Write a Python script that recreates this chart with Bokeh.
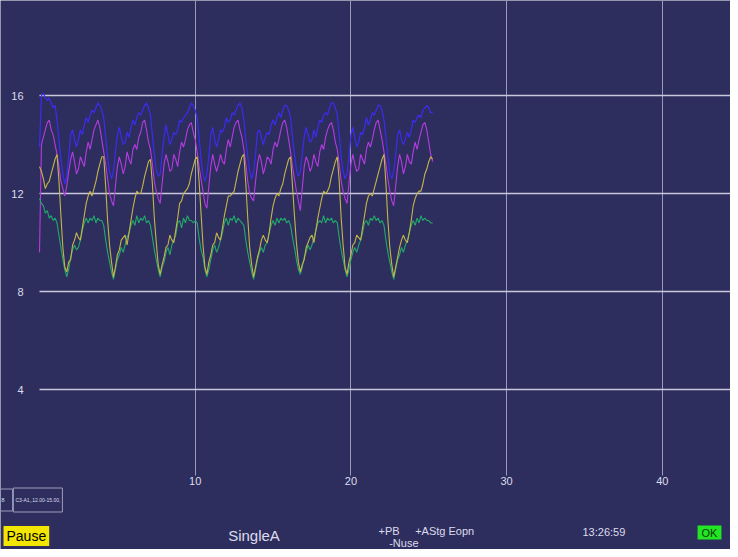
import numpy as np
from bokeh.plotting import figure
from bokeh.models import FixedTicker, Label, Range1d
from bokeh.embed import file_html
from bokeh.resources import INLINE

# ---------------- data ----------------
sample_step = 0.125  # seconds between samples

yellow = [13.1, 12.9, 12.6, 12.2, 12.4, 12.5, 12.8, 13.1, 13.4,
          13.6, 12.5, 11.1, 9.8, 9.0, 8.8, 9.2, 9.3, 9.9, 10.1, 10.4, 10.2, 10.1, 10.6, 11.1, 11.6, 11.9, 12.1, 11.9, 12.2, 12.5, 12.9, 13.2, 13.5,
          13.5, 12.3, 10.9, 9.9, 9.2, 8.6, 9.0, 9.5, 9.7, 10.1, 10.2, 10.3, 9.9, 10.4, 10.9, 11.4, 11.8, 12.1, 12.0, 12.0, 12.3, 12.7, 13.0, 13.3,
          13.4, 12.4, 11.0, 10.0, 9.1, 8.7, 9.1, 9.4, 9.8, 9.9, 10.3, 10.1, 10.0, 10.5, 11.0, 11.6, 11.7, 12.0, 12.1, 12.2, 12.4, 12.8, 13.1, 13.4,
          13.5, 12.5, 11.2, 9.9, 9.0, 8.7, 9.2, 9.5, 9.9, 10.0, 10.4, 10.2, 10.1, 10.6, 11.1, 11.5, 11.9, 11.9, 12.0, 12.1, 12.5, 12.9, 13.2, 13.5,
          13.6, 12.4, 11.0, 9.8, 9.1, 8.6, 9.0, 9.4, 9.7, 10.1, 10.3, 10.1, 10.0, 10.4, 11.0, 11.5, 11.8, 12.0, 11.9, 12.2, 12.4, 12.8, 13.1, 13.4,
          13.5, 12.3, 11.1, 10.0, 9.2, 8.8, 9.1, 9.3, 9.8, 10.0, 10.2, 10.3, 10.0, 10.5, 11.0, 11.4, 11.8, 12.1, 12.0, 12.1, 12.3, 12.7, 13.0, 13.3,
          13.5, 12.5, 11.0, 9.9, 9.0, 8.7, 9.2, 9.5, 9.9, 10.0, 10.3, 10.2, 10.1, 10.6, 11.1, 11.6, 11.9, 12.0, 11.9, 12.2, 12.5, 12.8, 13.1, 13.4,
          13.6, 12.4, 10.9, 9.8, 9.1, 8.6, 9.0, 9.4, 9.8, 10.1, 10.3, 10.1, 10.0, 10.4, 10.9, 11.5, 11.8, 12.0, 12.1, 12.1, 12.4, 12.8, 13.0, 13.3,
          13.5, 13.4]

green = [11.8, 11.6, 11.5, 11.2, 11.3, 11.0, 11.1, 10.9, 11.0,
         10.8, 10.3, 9.8, 9.3, 8.9, 8.6, 8.9, 9.4, 9.7, 9.9, 9.7, 9.8, 10.1, 10.5, 10.8, 11.0, 10.8, 11.0, 10.9, 11.1, 10.8, 11.0, 10.9, 10.9,
         10.7, 10.1, 9.6, 9.2, 8.8, 8.5, 8.9, 9.3, 9.5, 9.8, 9.6, 9.9, 10.2, 10.4, 10.7, 10.9, 10.7, 11.1, 10.8, 11.0, 10.9, 11.1, 10.8, 10.9,
         10.7, 10.2, 9.7, 9.3, 8.9, 8.6, 9.0, 9.2, 9.6, 9.8, 9.5, 9.9, 10.1, 10.3, 10.8, 10.9, 10.6, 11.0, 10.8, 11.1, 10.9, 10.9, 10.8, 10.9,
         10.8, 10.2, 9.7, 9.4, 8.9, 8.6, 8.9, 9.3, 9.7, 9.9, 9.6, 9.8, 10.1, 10.4, 10.8, 11.0, 10.7, 11.0, 10.9, 11.1, 10.8, 11.0, 10.9, 10.8,
         10.7, 10.1, 9.6, 9.2, 8.8, 8.5, 8.9, 9.3, 9.6, 9.8, 9.6, 9.9, 10.0, 10.4, 10.7, 10.9, 10.7, 11.0, 10.8, 11.0, 10.9, 11.0, 10.8, 10.9,
         10.7, 10.2, 9.8, 9.3, 8.9, 8.7, 9.0, 9.4, 9.6, 9.9, 9.7, 9.9, 10.2, 10.5, 10.8, 10.9, 10.8, 11.1, 10.8, 11.0, 10.9, 11.0, 10.8, 10.9,
         10.8, 10.2, 9.7, 9.3, 8.9, 8.6, 8.9, 9.3, 9.6, 9.8, 9.6, 9.9, 10.1, 10.4, 10.8, 10.9, 10.7, 11.0, 10.9, 11.1, 10.9, 11.0, 10.8, 10.9,
         10.7, 10.1, 9.6, 9.2, 8.8, 8.5, 8.9, 9.3, 9.5, 9.8, 9.6, 9.9, 10.1, 10.4, 10.7, 10.9, 10.7, 11.0, 10.8, 11.1, 10.9, 11.0, 10.9, 10.9,
         10.8, 10.8]

blue = [13.9, 16.0, 16.1, 15.9, 15.8, 15.9, 15.7, 15.5, 15.6,
        15.0, 14.2, 13.4, 12.8, 12.4, 12.7, 13.5, 14.4, 14.6, 14.2, 13.9, 14.2, 14.6, 14.4, 14.8, 15.1, 14.9, 15.2, 15.4, 15.3, 15.5, 15.7, 15.6, 15.4,
        15.1, 14.3, 13.5, 12.9, 12.6, 12.9, 13.7, 14.4, 14.7, 14.3, 14.0, 14.1, 14.5, 14.3, 14.7, 15.0, 14.8, 15.1, 15.3, 15.2, 15.4, 15.6, 15.7, 15.5,
        15.2, 14.4, 13.6, 13.0, 12.7, 12.8, 13.6, 14.3, 14.8, 14.4, 14.0, 14.2, 14.5, 14.4, 14.6, 15.0, 14.9, 15.1, 15.2, 15.3, 15.5, 15.7, 15.6, 15.4,
        15.1, 14.3, 13.4, 12.8, 12.5, 12.8, 13.5, 14.4, 14.7, 14.2, 13.9, 14.2, 14.6, 14.5, 14.7, 15.1, 14.9, 15.0, 15.3, 15.2, 15.4, 15.6, 15.7, 15.5,
        15.0, 14.2, 13.5, 12.9, 12.6, 12.9, 13.6, 14.5, 14.6, 14.3, 14.0, 14.3, 14.5, 14.4, 14.8, 15.0, 14.8, 15.1, 15.3, 15.1, 15.4, 15.6, 15.6, 15.4,
        15.1, 14.3, 13.6, 13.0, 12.7, 12.9, 13.6, 14.3, 14.7, 14.4, 14.1, 14.2, 14.6, 14.3, 14.7, 15.0, 14.9, 15.2, 15.3, 15.2, 15.5, 15.7, 15.7, 15.5,
        15.2, 14.4, 13.5, 12.9, 12.6, 12.8, 13.5, 14.4, 14.7, 14.3, 13.9, 14.1, 14.5, 14.4, 14.7, 15.1, 14.8, 15.0, 15.3, 15.2, 15.4, 15.6, 15.6, 15.4,
        15.0, 14.3, 13.5, 12.8, 12.6, 12.9, 13.6, 14.4, 14.6, 14.2, 14.0, 14.2, 14.5, 14.3, 14.6, 15.0, 14.9, 15.1, 15.2, 15.1, 15.4, 15.5, 15.6, 15.5,
        15.3, 15.3]

magenta = [9.6, 14.0, 14.3, 14.6, 14.9, 15.0, 14.6, 14.4, 14.0,
           13.6, 13.1, 12.5, 12.2, 11.9, 12.3, 12.9, 13.4, 13.7, 13.3, 12.8, 13.0, 13.5, 13.3, 13.1, 13.7, 14.1, 13.8, 14.2, 14.6, 14.8, 15.0, 14.7, 14.2,
           13.7, 13.2, 12.6, 12.0, 11.7, 11.5, 12.3, 13.1, 13.5, 13.2, 12.8, 13.1, 13.7, 13.4, 13.2, 13.8, 14.0, 13.8, 14.3, 14.5, 14.9, 15.0, 14.6, 14.1,
           13.8, 13.2, 12.5, 12.1, 11.8, 11.6, 12.4, 13.2, 13.6, 13.3, 12.9, 13.0, 13.6, 13.4, 13.1, 13.7, 14.1, 13.9, 14.2, 14.6, 14.8, 14.9, 14.5, 14.2,
           13.7, 13.1, 12.6, 12.1, 11.6, 11.4, 12.3, 13.1, 13.6, 13.2, 12.9, 13.2, 13.6, 13.3, 13.2, 13.8, 14.2, 13.9, 14.3, 14.7, 14.9, 15.0, 14.6, 14.3,
           13.8, 13.2, 12.5, 12.0, 11.8, 11.7, 12.5, 13.2, 13.6, 13.3, 12.8, 13.1, 13.5, 13.4, 13.2, 13.8, 14.1, 13.9, 14.2, 14.6, 14.9, 15.0, 14.7, 14.2,
           13.7, 13.1, 12.6, 12.1, 11.7, 11.3, 12.2, 13.1, 13.5, 13.3, 12.9, 13.1, 13.6, 13.3, 13.1, 13.7, 14.0, 13.8, 14.3, 14.6, 14.8, 14.9, 14.6, 14.1,
           13.8, 13.2, 12.5, 12.1, 11.8, 11.6, 12.4, 13.2, 13.6, 13.2, 12.9, 13.0, 13.6, 13.4, 13.2, 13.8, 14.1, 13.9, 14.2, 14.6, 14.9, 15.0, 14.6, 14.2,
           13.7, 13.2, 12.6, 12.1, 11.7, 11.5, 12.3, 13.1, 13.6, 13.3, 12.8, 13.1, 13.6, 13.3, 13.2, 13.7, 14.1, 13.8, 14.2, 14.5, 14.8, 14.9, 14.6, 14.1,
           13.6, 13.3]

x_ticks = [10, 20, 30, 40]
y_ticks = [4, 8, 12, 16]

# ---------------- style ----------------
BG = "#2e2e5e"
TXT = "#dcdcec"
FONT = "Liberation Sans"

t = np.arange(len(yellow)) * sample_step

p = figure(width=730, height=549, output_backend="svg", toolbar_location=None,
           x_range=Range1d(-2.505, 44.38), y_range=Range1d(-2.53, 19.88),
           min_border_left=0, min_border_right=0, min_border_top=0, min_border_bottom=0)
p.background_fill_color = BG
p.border_fill_color = BG
p.outline_line_color = None

p.xaxis.ticker = FixedTicker(ticks=x_ticks)
p.yaxis.ticker = FixedTicker(ticks=y_ticks)
p.xaxis.fixed_location = 0.49
p.yaxis.fixed_location = 0
for ax in (p.xaxis, p.yaxis):
    ax.axis_line_color = None
    ax.major_tick_line_color = None
    ax.minor_tick_line_color = None
    ax.major_tick_out = 0
    ax.major_tick_in = 0
    ax.major_label_text_color = TXT
    ax.major_label_text_font = FONT
    ax.major_label_text_font_size = "11px"
p.yaxis.major_label_standoff = 16
p.xaxis.major_label_standoff = 1

p.xgrid.grid_line_color = "#9a9abb"
p.xgrid.grid_line_width = 1
p.xgrid.cross_bounds = (0.49, 19.88)
p.ygrid.grid_line_color = "#c8c8da"
p.ygrid.grid_line_width = 1.5
p.ygrid.cross_bounds = (0, 44.38)

p.line(t, blue, line_color="#3b2cf0", line_width=1.2)
p.line(t, magenta, line_color="#b43ce0", line_width=1.1)
p.line(t, green, line_color="#22a86a", line_width=1.1)
p.line(t, yellow, line_color="#c4b648", line_width=1.1)

# ---------------- status bar ----------------
def lab(text, x, y, size, align="left", color=TXT, bg=None, pad=0, border=None):
    kw = dict(x=x, y=y, x_units="screen", y_units="screen", text=text,
              text_font=FONT, text_font_size=size, text_color=color,
              text_align=align, text_baseline="middle")
    if bg is not None:
        kw["background_fill_color"] = bg
    if border is not None:
        kw["border_line_color"] = border
        kw["border_line_width"] = 1
    if pad:
        kw["padding"] = pad
    p.add_layout(Label(**kw))

lab("8", 2.4, 49.5, "6px", align="center", pad=(8, 9), border="#9a9abb")
lab("C3-A1,,12.00-15.00,", 37.4, 49.5, "5px", align="center", pad=(2, 9), border="#9a9abb")
lab("Pause", 3, 13.5, "14px", color="#000000", bg="#f2e600", pad=(3, 2))
lab("SingleA", 253.5, 14, "15px", align="center")
lab("+PB", 378, 19, "11px")
lab("-Nuse", 388.7, 6.5, "11px")
lab("+AStg Eopn", 414.7, 19, "11px")
lab("13:26:59", 582, 17.5, "11px")
lab("OK", 709, 17, "11px", align="center", color="#0a3a0a", bg="#22e622", pad=(4, 1))

open("out.html", "w").write(file_html(p, INLINE))
